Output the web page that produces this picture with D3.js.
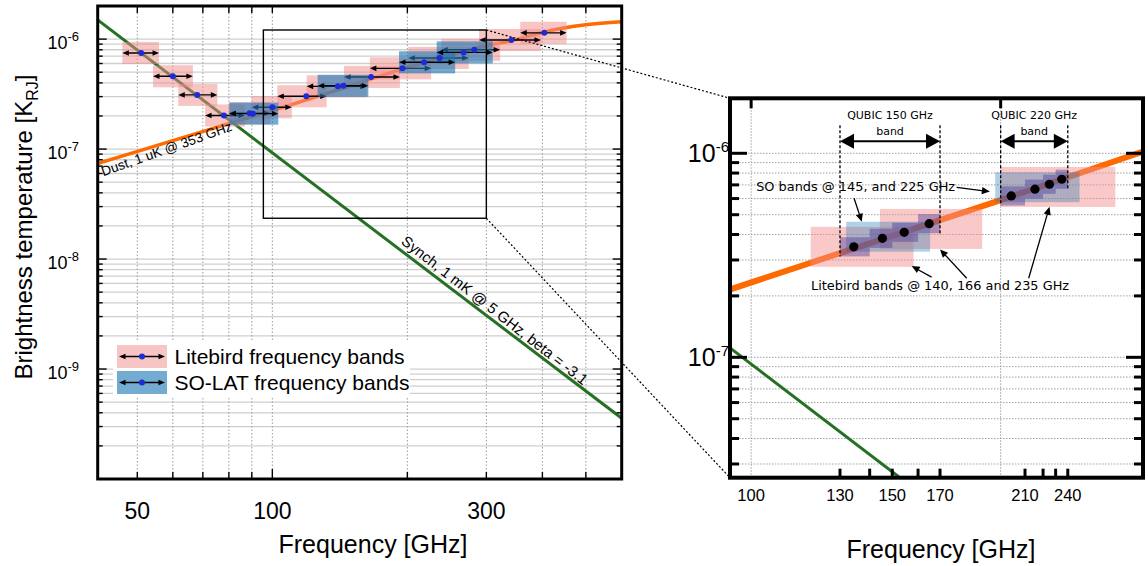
<!DOCTYPE html>
<html>
<head>
<meta charset="utf-8">
<title>Foreground SED with LiteBIRD, SO-LAT and QUBIC bands</title>
<script src="https://cdn.jsdelivr.net/npm/d3@7/dist/d3.min.js"></script>
<style>
  html, body { margin: 0; padding: 0; background: #ffffff; }
  svg { display: block; }
  text { font-family: "Liberation Sans", Arial, Helvetica, sans-serif; fill: #000; }
  text.note { font-family: "DejaVu Sans", sans-serif; }
</style>
</head>
<body>
<svg id="chart" width="1148" height="566" viewBox="0 0 1148 566"></svg>
<script>
// ---------------- foreground models ----------------
// synchrotron power law: amplitude (K_RJ) at the reference frequency (GHz), spectral index
const synchAmp = 1e-3;
const synchRefFreq = 5;
const synchBeta = -3.1;

// thermal dust, 1 uK @ 353 GHz (wide view)
const dustFreq = [40.8, 82, 100, 140, 200, 300, 353, 400, 446, 500, 601];
const dustTemp = [7.4e-8, 1.76e-7, 2.24e-7, 3.46e-7, 5.54e-7, 8.7e-7, 1.0e-6, 1.15e-6, 1.26e-6, 1.35e-6, 1.44e-6];
// thermal dust as drawn in the zoomed view
const dustZoomFreq = [94.3, 200, 297];
const dustZoomTemp = [2.15e-7, 5.9e-7, 1.02e-6];

// ---------------- LiteBIRD bands (GHz, K_RJ) ----------------
const litebirdFreq = [51, 60, 68, 78, 89, 100, 119, 140, 166, 195, 236, 282, 341, 404];
const litebirdTemp = [7.48e-7, 4.59e-7, 3.11e-7, 2.02e-7, 2.12e-7, 2.40e-7, 3.02e-7, 3.72e-7, 4.53e-7, 5.42e-7, 6.74e-7, 8.0e-7, 9.81e-7, 1.14e-6];
const litebirdLow  = [46.3, 54.2, 61.7, 70.8, 80, 90, 102.6, 119.3, 144.5, 165, 201, 238, 289, 357];
const litebirdHigh = [55.9, 66.5, 75.4, 86.9, 99, 110.5, 132.2, 162.2, 192.5, 226, 274, 322, 397, 453];

// ---------------- SO-LAT bands ----------------
const soFreq = [90.5, 144, 218, 267];
const soTemp = [2.1e-7, 3.76e-7, 6.15e-7, 7.57e-7];
const soLow  = [80.2, 126.2, 191.6, 232.5];
const soHigh = [103.1, 163.7, 255.6, 310];

// ---------------- zoomed view: 95-300 GHz ----------------
const litebirdZoomLow  = [118, 143, 200];
const litebirdZoomHigh = [157, 190, 275];
const litebirdZoomTemp = [3.48e-7, 4.26e-7, 6.84e-7];
const soZoomLow  = [130.2, 197];
const soZoomHigh = [164.4, 249];
const soZoomTemp = [3.9e-7, 6.82e-7];
const qubic150Edges = [128, 139, 148, 159, 169];
const qubic220Edges = [200, 214, 225, 233, 241];
const qubicFreq = [133, 144, 153, 164, 206, 220, 229, 237];
const qubicTemp = [3.48e-7, 3.83e-7, 4.10e-7, 4.52e-7, 6.18e-7, 6.67e-7, 7.05e-7, 7.46e-7];
const qubicBandNames = ["QUBIC 150 GHz", "QUBIC 220 GHz"];

// annotation pointers [fromFreq, fromTemp, toFreq, toTemp]
const soNoteArrows = [[177, 6.81e-7, 194.1, 6.49e-7], [133.1, 6.02e-7, 136.0, 4.62e-7]];
const litebirdNoteArrows = [[165.1, 2.47e-7, 156.2, 2.80e-7], [182.0, 2.44e-7, 169.0, 3.38e-7], [216.2, 2.44e-7, 229.05, 5.47e-7]];
const soNoteAnchor = [101.4, 6.53e-7];
const litebirdNoteAnchor = [118.1, 2.13e-7];

// region of the wide view shown in the zoom
const insetFreq = [95.5, 300];
const insetTemp = [2.35e-8, 1.21e-6];

// tick labels
const wideXTickLabels = [50, 100, 300];
const wideYTickLabels = [1e-6, 1e-7, 1e-8, 1e-9];
const zoomXTickFreq = [...qubic150Edges, ...qubic220Edges.slice(1)];
const zoomXLabelFreq = [100, 128, 148, 169, 214, 241];
const zoomXLabelText = ["100", "130", "150", "170", "210", "240"];
const zoomXGridFreq = [100, 200];
const zoomYTickLabels = [1e-6, 1e-7];

// ---------------- styling ----------------
const ORANGE = "#ff6a00";
const GREEN = "#267026";
const PINK = "rgb(242,140,140)";
const BLUE = "rgb(31,119,180)";
const DOT = "#1f2bd6";
const wideBoxSpread = 1.26;       // vertical half-size of the band boxes (factor)
const zoomLbSpread = 1.253;
const zoomSoSpread = 1.184;
const qubicSpread = 1.114;

const svg = d3.select("#chart");
const defs = svg.append("defs");

const isDecade = v => Math.abs(Math.log10(v) - Math.round(Math.log10(v))) < 1e-6;
const synch = f => synchAmp * Math.pow(f / synchRefFreq, synchBeta);

function head(g, tipX, tipY, fromX, fromY, len, half, color) {
  const dx = tipX - fromX, dy = tipY - fromY, d = Math.hypot(dx, dy);
  const ux = dx / d, uy = dy / d;
  const bx = tipX - ux * len, by = tipY - uy * len;
  g.append("path")
    .attr("d", `M${tipX},${tipY}L${bx - uy * half},${by + ux * half}L${bx + uy * half},${by - ux * half}Z`)
    .attr("fill", color);
}
function doubleArrow(g, xa, xb, y, o) {
  g.append("line").attr("x1", xa + o.len * 0.8).attr("x2", xb - o.len * 0.8)
    .attr("y1", y).attr("y2", y).attr("stroke", o.color).attr("stroke-width", o.width);
  head(g, xa, y, xb, y, o.len, o.half, o.color);
  head(g, xb, y, xa, y, o.len, o.half, o.color);
}
function pointer(g, x0, y0, x1, y1, o) {
  const d = Math.hypot(x1 - x0, y1 - y0);
  const ex = x1 - (x1 - x0) / d * o.len * 0.8, ey = y1 - (y1 - y0) / d * o.len * 0.8;
  g.append("line").attr("x1", x0).attr("y1", y0).attr("x2", ex).attr("y2", ey)
    .attr("stroke", "#000").attr("stroke-width", o.width);
  head(g, x1, y1, x0, y0, o.len, o.half, "#000");
}
function powerLabel(g, x, y, v, big, small, rise) {
  const t = g.append("text").attr("x", x).attr("y", y).attr("text-anchor", "end")
    .style("font-size", big + "px");
  t.append("tspan").text("10");
  t.append("tspan").attr("dy", -rise).style("font-size", small + "px").text(String(Math.round(Math.log10(v))));
}

// =============== wide view ===============
const xL = d3.scaleLog().domain([40.8, 601]).range([97.7, 621.7]);
const yL = d3.scaleLog().domain([1e-10, 2e-6]).range([479, 6]);
const [lx0, lx1] = xL.range();
const [ly1, ly0] = yL.range();

defs.append("clipPath").attr("id", "clipWide").append("rect")
  .attr("x", lx0).attr("y", ly0).attr("width", lx1 - lx0).attr("height", ly1 - ly0);

const gL = svg.append("g");
const gridL = gL.append("g");
yL.ticks().filter(v => yL(v) > ly0 + 1 && yL(v) < ly1 - 1).forEach(v => {
  gridL.append("line").attr("x1", lx0).attr("x2", lx1).attr("y1", yL(v)).attr("y2", yL(v))
    .attr("stroke", "#cfcfcf").attr("stroke-width", 1.3);
});
const xTicksL = xL.ticks().filter(v => xL(v) > lx0 + 3 && xL(v) < lx1 - 3);
xTicksL.forEach(v => {
  gridL.append("line").attr("x1", xL(v)).attr("x2", xL(v)).attr("y1", ly0).attr("y2", ly1)
    .attr("stroke", "#9a9a9a").attr("stroke-width", 1).attr("stroke-dasharray", "1.5,2");
});

const dataL = gL.append("g").attr("clip-path", "url(#clipWide)");
const lineL = d3.line().x(d => xL(d[0])).y(d => yL(d[1])).curve(d3.curveMonotoneX);
dataL.append("path").attr("d", lineL(d3.zip(dustFreq, dustTemp)))
  .attr("fill", "none").attr("stroke", ORANGE).attr("stroke-width", 3.5);
dataL.append("path").attr("d", lineL(xL.domain().map(f => [f, synch(f)])))
  .attr("fill", "none").attr("stroke", GREEN).attr("stroke-width", 3);

function wideBands(freq, temp, low, high, color, alpha) {
  const g = dataL.append("g");
  freq.forEach((f, i) => {
    const t = temp[i];
    g.append("rect").attr("x", xL(low[i])).attr("width", xL(high[i]) - xL(low[i]))
      .attr("y", yL(t * wideBoxSpread)).attr("height", yL(t / wideBoxSpread) - yL(t * wideBoxSpread))
      .attr("fill", color).attr("fill-opacity", alpha);
  });
  freq.forEach((f, i) => {
    doubleArrow(g, xL(low[i]), xL(high[i]), yL(temp[i]), { len: 6.5, half: 2.8, width: 1.4, color: "#000" });
  });
}
wideBands(litebirdFreq, litebirdTemp, litebirdLow, litebirdHigh, PINK, 0.5);
wideBands(soFreq, soTemp, soLow, soHigh, BLUE, 0.62);
const dotsL = dataL.append("g");
[[litebirdFreq, litebirdTemp], [soFreq, soTemp]].forEach(([fs, ts]) => {
  fs.forEach((f, i) => dotsL.append("circle").attr("cx", xL(f)).attr("cy", yL(ts[i])).attr("r", 3).attr("fill", DOT));
});

// zoom region outline
gL.append("rect")
  .attr("x", xL(insetFreq[0])).attr("y", yL(insetTemp[1]))
  .attr("width", xL(insetFreq[1]) - xL(insetFreq[0])).attr("height", yL(insetTemp[0]) - yL(insetTemp[1]))
  .attr("fill", "none").attr("stroke", "#000").attr("stroke-width", 1.4);

// curve labels
{
  const fx = 42, ft = 5.66e-8;
  gL.append("text").attr("transform", `translate(${xL(fx)},${yL(ft)}) rotate(-19.5)`)
    .style("font-size", "13.5px").text("Dust, 1 uK @ 353 GHz");
  const sx = 192.9, st = 1.4e-8;
  gL.append("text").attr("transform", `translate(${xL(sx)},${yL(st)}) rotate(38)`)
    .style("font-size", "15px").text("Synch, 1 mK @ 5 GHz, beta = -3.1");
}

// legend
{
  const lg = gL.append("g").attr("transform", "translate(117,345)");
  lg.append("rect").attr("x", -4).attr("y", -4).attr("width", 297).attr("height", 56).attr("fill", "#fff");
  const rows = [["Litebird frequency bands", PINK, 0.5], ["SO-LAT frequency bands", BLUE, 0.62]];
  rows.forEach(([label, color, alpha], i) => {
    const y = i * 26;
    lg.append("rect").attr("x", 0).attr("y", y).attr("width", 50).attr("height", 23)
      .attr("fill", color).attr("fill-opacity", alpha);
    doubleArrow(lg, 2, 48, y + 11.5, { len: 6.5, half: 2.8, width: 1.4, color: "#000" });
    lg.append("circle").attr("cx", 25).attr("cy", y + 11.5).attr("r", 3).attr("fill", DOT);
    lg.append("text").attr("x", 57.5).attr("y", y + 19).style("font-size", "21px").text(label);
  });
}

// frame and ticks
const axL = gL.append("g").attr("stroke", "#000");
yL.ticks().filter(v => yL(v) > ly0 + 1 && yL(v) < ly1 - 1).forEach(v => {
  const len = isDecade(v) ? 9 : 5;
  axL.append("line").attr("x1", lx0).attr("x2", lx0 + len).attr("y1", yL(v)).attr("y2", yL(v)).attr("stroke-width", 1.4);
  axL.append("line").attr("x1", lx1).attr("x2", lx1 - len).attr("y1", yL(v)).attr("y2", yL(v)).attr("stroke-width", 1.4);
});
xTicksL.forEach(v => {
  const len = isDecade(v) ? 10 : 7;
  axL.append("line").attr("x1", xL(v)).attr("x2", xL(v)).attr("y1", ly1).attr("y2", ly1 - len).attr("stroke-width", 1.4);
  axL.append("line").attr("x1", xL(v)).attr("x2", xL(v)).attr("y1", ly0).attr("y2", ly0 + 7).attr("stroke-width", 1.4);
});
gL.append("rect").attr("x", lx0).attr("y", ly0).attr("width", lx1 - lx0).attr("height", ly1 - ly0)
  .attr("fill", "none").attr("stroke", "#000").attr("stroke-width", 3);

wideXTickLabels.forEach(v => {
  gL.append("text").attr("x", xL(v)).attr("y", 519).attr("text-anchor", "middle")
    .style("font-size", "23px").text(v);
});
wideYTickLabels.forEach(v => powerLabel(gL, 79, yL(v) + 9.5, v, 18, 13, 8));

gL.append("text").attr("x", 373).attr("y", 553).attr("text-anchor", "middle")
  .style("font-size", "25px").text("Frequency [GHz]");
{
  const t = gL.append("text").attr("transform", "translate(32,227) rotate(-90)")
    .attr("text-anchor", "middle").style("font-size", "24px");
  t.append("tspan").text("Brightness temperature [K");
  t.append("tspan").attr("dy", 6).style("font-size", "16px").text("RJ");
  t.append("tspan").attr("dy", -6).text("]");
}

// =============== zoomed view ===============
const xR = d3.scaleLog().domain([94.3, 297]).range([730, 1143]);
const yR = d3.scaleLog().domain([2.57e-8, 1.86e-6]).range([477.7, 98.3]);
const [rx0, rx1] = xR.range();
const [ry1, ry0] = yR.range();

defs.append("clipPath").attr("id", "clipZoom").append("rect")
  .attr("x", rx0).attr("y", ry0).attr("width", rx1 - rx0).attr("height", ry1 - ry0);

const gR = svg.append("g");
const gridR = gR.append("g").attr("stroke", "#a0a0a0").attr("stroke-width", 1).attr("stroke-dasharray", "1.5,1.5");
yR.ticks().forEach(v => {
  gridR.append("line").attr("x1", rx0).attr("x2", rx1).attr("y1", yR(v)).attr("y2", yR(v));
});
zoomXGridFreq.forEach(v => {
  gridR.append("line").attr("x1", xR(v)).attr("x2", xR(v)).attr("y1", ry0).attr("y2", ry1);
});

const dataR = gR.append("g").attr("clip-path", "url(#clipZoom)");
const lineR = d3.line().x(d => xR(d[0])).y(d => yR(d[1])).curve(d3.curveMonotoneX);
dataR.append("path").attr("d", lineR(d3.zip(dustZoomFreq, dustZoomTemp)))
  .attr("fill", "none").attr("stroke", ORANGE).attr("stroke-width", 6);
dataR.append("path").attr("d", lineR(xR.domain().map(f => [f, synch(f)])))
  .attr("fill", "none").attr("stroke", GREEN).attr("stroke-width", 3);

function zoomBox(lo, hi, t, spread, color, alpha) {
  dataR.append("rect").attr("x", xR(lo)).attr("width", xR(hi) - xR(lo))
    .attr("y", yR(t * spread)).attr("height", yR(t / spread) - yR(t * spread))
    .attr("fill", color).attr("fill-opacity", alpha);
}
litebirdZoomTemp.forEach((t, i) => zoomBox(litebirdZoomLow[i], litebirdZoomHigh[i], t, zoomLbSpread, PINK, 0.48));
soZoomTemp.forEach((t, i) => zoomBox(soZoomLow[i], soZoomHigh[i], t, zoomSoSpread, BLUE, 0.35));
const qubicEdgeSets = [qubic150Edges, qubic220Edges];
qubicEdgeSets.forEach((edges, b) => {
  for (let k = 0; k < edges.length - 1; k++) {
    zoomBox(edges[k], edges[k + 1], qubicTemp[b * 4 + k], qubicSpread, "rgb(70,55,150)", 0.42);
  }
});
qubicFreq.forEach((f, i) => {
  dataR.append("circle").attr("cx", xR(f)).attr("cy", yR(qubicTemp[i])).attr("r", 4.6).attr("fill", "#000");
});

// QUBIC band markers
const noteG = gR.append("g");
qubicEdgeSets.forEach((edges, b) => {
  const lo = edges[0], hi = edges[edges.length - 1];
  const yLoBottom = yR(qubicTemp[b * 4] / qubicSpread);
  const yHiBottom = yR(qubicTemp[b * 4 + 3] / qubicSpread);
  noteG.append("line").attr("x1", xR(lo)).attr("x2", xR(lo)).attr("y1", ry0 + 27).attr("y2", yLoBottom)
    .attr("stroke", "#000").attr("stroke-width", 1.3).attr("stroke-dasharray", "3,2");
  noteG.append("line").attr("x1", xR(hi)).attr("x2", xR(hi)).attr("y1", ry0 + 27).attr("y2", yHiBottom)
    .attr("stroke", "#000").attr("stroke-width", 1.3).attr("stroke-dasharray", "3,2");
  doubleArrow(noteG, xR(lo), xR(hi), ry0 + 43, { len: 14, half: 7.5, width: 2, color: "#000" });
  const cx = xR(Math.sqrt(lo * hi));
  noteG.append("text").attr("class", "note").attr("x", cx).attr("y", ry0 + 21)
    .attr("text-anchor", "middle").style("font-size", "11px").text(qubicBandNames[b]);
  noteG.append("text").attr("class", "note").attr("x", cx).attr("y", ry0 + 37)
    .attr("text-anchor", "middle").style("font-size", "11px").text("band");
});

noteG.append("text").attr("class", "note").attr("x", xR(soNoteAnchor[0])).attr("y", yR(soNoteAnchor[1]))
  .style("font-size", "12.9px").text("SO bands @ 145, and 225 GHz");
noteG.append("text").attr("class", "note").attr("x", xR(litebirdNoteAnchor[0])).attr("y", yR(litebirdNoteAnchor[1]))
  .style("font-size", "12.9px").text("Litebird bands @ 140, 166 and 235 GHz");
[...soNoteArrows, ...litebirdNoteArrows].forEach(a => {
  pointer(noteG, xR(a[0]), yR(a[1]), xR(a[2]), yR(a[3]), { len: 8, half: 3.6, width: 1.3 });
});

// frame and ticks
const axR = gR.append("g").attr("stroke", "#000").attr("stroke-width", 3);
yR.ticks().forEach(v => {
  const len = isDecade(v) ? 17 : 9;
  axR.append("line").attr("x1", rx0).attr("x2", rx0 + len).attr("y1", yR(v)).attr("y2", yR(v));
  axR.append("line").attr("x1", rx1).attr("x2", rx1 - len).attr("y1", yR(v)).attr("y2", yR(v));
});
zoomXTickFreq.forEach(v => {
  axR.append("line").attr("x1", xR(v)).attr("x2", xR(v)).attr("y1", ry1).attr("y2", ry1 - 9);
});
zoomXGridFreq.forEach(v => {
  axR.append("line").attr("x1", xR(v)).attr("x2", xR(v)).attr("y1", ry0).attr("y2", ry0 + 10);
});
gR.append("rect").attr("x", rx0).attr("y", ry0).attr("width", rx1 - rx0).attr("height", ry1 - ry0)
  .attr("fill", "none").attr("stroke", "#000").attr("stroke-width", 4);

zoomXLabelFreq.forEach((v, i) => {
  gR.append("text").attr("x", xR(v)).attr("y", 501).attr("text-anchor", "middle")
    .style("font-size", "16.5px").text(zoomXLabelText[i]);
});
zoomYTickLabels.forEach(v => powerLabel(gR, 729, yR(v) + 9, v, 25, 15, 10));
gR.append("text").attr("x", 941).attr("y", 558).attr("text-anchor", "middle")
  .style("font-size", "25px").text("Frequency [GHz]");

// connectors from the outlined region to the zoomed view
const conn = svg.append("g").attr("stroke", "#000").attr("stroke-width", 1.2).attr("stroke-dasharray", "2,2").attr("fill", "none");
conn.append("line").attr("x1", xL(insetFreq[1])).attr("y1", yL(insetTemp[1])).attr("x2", rx0).attr("y2", ry0);
conn.append("line").attr("x1", xL(insetFreq[1])).attr("y1", yL(insetTemp[0])).attr("x2", rx0).attr("y2", ry1);
</script>
</body>
</html>
